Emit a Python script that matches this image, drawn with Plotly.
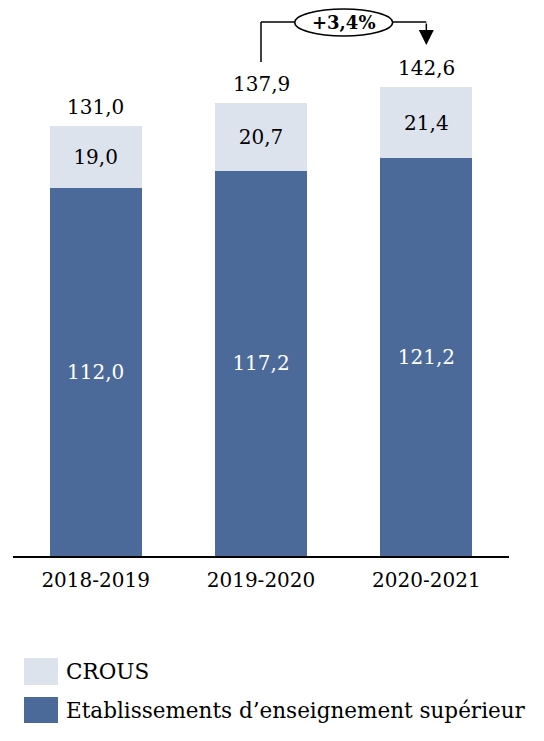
import plotly.graph_objects as go

categories = ["2018-2019", "2019-2020", "2020-2021"]
etablissements = [112.0, 117.2, 121.2]
crous = [19.0, 20.7, 21.4]
totals = [131.0, 137.9, 142.6]

DARK = "#4B6A9A"
LIGHT = "#DDE3ED"
FONT = "DejaVu Serif"
FS = 20

OFF = 8  # page body margin
W, H = 544 - 2 * OFF, 741 - 2 * OFF
L, R_PX, BASE = 13 - OFF, 509 - OFF, 556 - OFF
PX_PER_UNIT = 3.286
YMAX = BASE / PX_PER_UNIT
xs = list(range(len(categories)))


def px_x(px):
    return (px - OFF - L) / (R_PX - L)


def px_y(px):
    return (BASE - (px - OFF)) / BASE


def data_y(px):
    return (BASE - (px - OFF)) / PX_PER_UNIT


fig = go.Figure()
fig.add_trace(go.Bar(
    x=xs, y=etablissements, name="Etablissements d’enseignement supérieur",
    marker=dict(color=DARK, line=dict(width=0)), width=0.557,
    texttemplate="%{y:.1f}", textposition="inside", insidetextanchor="middle",
    textangle=0, constraintext="none",
    textfont=dict(family=FONT, size=FS, color="white"),
))
fig.add_trace(go.Bar(
    x=xs, y=crous, name="CROUS",
    marker=dict(color=LIGHT, line=dict(width=0)), width=0.557,
    texttemplate="%{y:.1f}", textposition="inside", insidetextanchor="middle",
    textangle=0, constraintext="none",
    textfont=dict(family=FONT, size=FS, color="black"),
))

annotations = []
for x, t in zip(xs, totals):
    annotations.append(dict(
        x=x, y=t, text=f"{t:.1f}".replace(".", ","), showarrow=False,
        yanchor="middle", yshift=19, font=dict(family=FONT, size=FS, color="black"),
    ))

# growth bracket
pct = (totals[2] / totals[1] - 1) * 100
line_y = data_y(22)
ell_top, ell_bot = data_y(9), data_y(36)
off_left = 12.4
off_right = 12.9
ell_cx = 1.5
ell_hw = 0.296
shapes = [
    dict(type="line", x0=1, x1=1, y0=totals[1] + off_left, y1=line_y,
         line=dict(color="black", width=1.5)),
    dict(type="line", x0=1, x1=ell_cx - ell_hw, y0=line_y, y1=line_y,
         line=dict(color="black", width=1.5)),
    dict(type="line", x0=ell_cx + ell_hw, x1=2, y0=line_y, y1=line_y,
         line=dict(color="black", width=1.5)),
    dict(type="circle", x0=ell_cx - ell_hw, x1=ell_cx + ell_hw, y0=ell_bot, y1=ell_top,
         line=dict(color="black", width=1.5), fillcolor="white"),
]
annotations.append(dict(
    x=2, y=totals[2] + off_right, ax=2, ay=line_y, axref="x", ayref="y",
    xref="x", yref="y", text="", showarrow=True, arrowhead=2, arrowsize=2,
    arrowwidth=1.5, arrowcolor="black", standoff=0, startstandoff=0,
))
annotations.append(dict(
    x=ell_cx, y=(ell_top + ell_bot) / 2, text="<b>" + f"+{pct:.1f}%".replace(".", ",") + "</b>",
    showarrow=False, font=dict(family=FONT, size=18, color="black"),
))

# manual legend
legend_items = [("CROUS", LIGHT, 658, 685), ("Etablissements d’enseignement supérieur", DARK, 697, 723)]
for label, col, top, bot in legend_items:
    shapes.append(dict(type="rect", xref="paper", yref="paper",
                       x0=px_x(24), x1=px_x(58), y0=px_y(bot), y1=px_y(top),
                       fillcolor=col, line=dict(width=0)))
    annotations.append(dict(xref="paper", yref="paper", x=px_x(64), y=px_y((top + bot) / 2),
                            xanchor="left", yanchor="middle", text=label, showarrow=False,
                            font=dict(family=FONT, size=21.5, color="black")))

fig.update_layout(
    width=W, height=H,
    margin=dict(l=L, r=W - R_PX, t=0, b=H - BASE, pad=0),
    barmode="stack", showlegend=False,
    separators=", ",
    plot_bgcolor="white", paper_bgcolor="white",
    font=dict(family=FONT, size=FS, color="black"),
    xaxis=dict(range=[-0.5, 2.5], tickvals=xs, ticktext=categories, showgrid=False,
               zeroline=False, showline=True, linecolor="black", linewidth=1.5,
               ticks="", ticklabelstandoff=5, tickfont=dict(family=FONT, size=FS)),
    yaxis=dict(range=[0, YMAX], visible=False),
    shapes=shapes, annotations=annotations,
)

fig.write_html("out.html")
